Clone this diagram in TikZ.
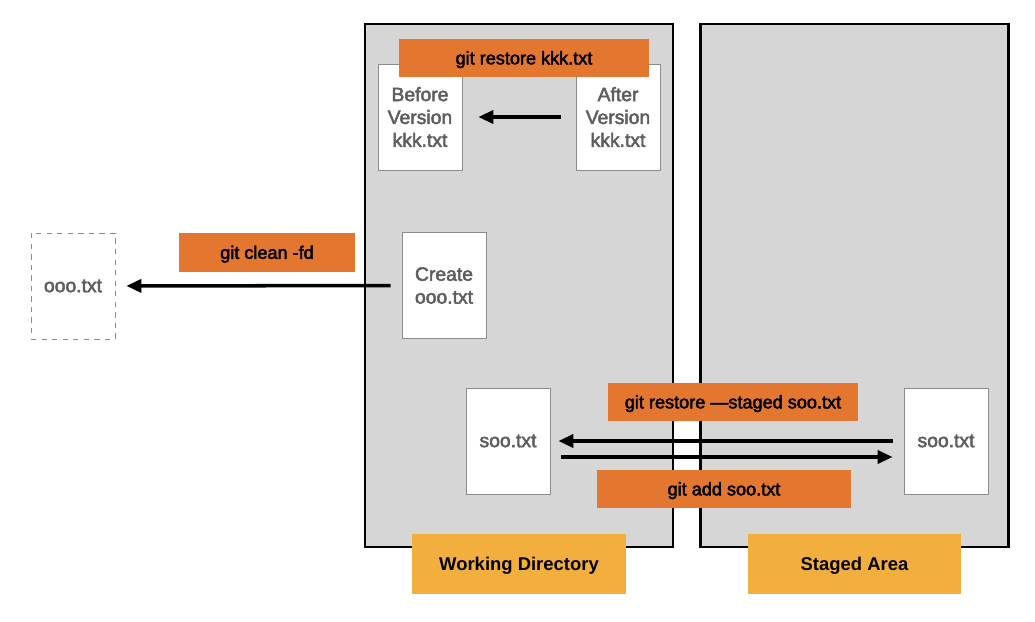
\documentclass[tikz,border=0pt]{standalone}
\usepackage{fontspec}
\setmainfont{Liberation Sans}
\newfontface\medfont{Liberation Sans}[FakeBold=2.5]
\usepackage{xcolor}
\usetikzlibrary{arrows.meta}
\definecolor{panelgray}{HTML}{D6D6D6}
\definecolor{boxgray}{HTML}{8C8C8C}
\definecolor{textgray}{HTML}{5E5E5E}
\definecolor{cmdorange}{HTML}{E3772F}
\definecolor{areayellow}{HTML}{F3AF3D}

\begin{document}
\begin{tikzpicture}[x=0.02cm, y=-0.02cm,
    panel/.style={draw=black, line width=1.7pt, fill=panelgray},
    file/.style={draw=boxgray, fill=white, minimum width=1.68cm, minimum height=2.12cm,
        inner sep=0pt, align=center, text=textgray, font=\medfont\fontsize{11}{13}\selectfont},
    gone/.style={file, dashed},
    cmd/.style={fill=cmdorange, minimum height=0.77cm, inner sep=0pt,
        text height=0.72em, text depth=0pt, font=\medfont\fontsize{10.3}{12}\selectfont},
    area/.style={fill=areayellow, minimum width=4.28cm, minimum height=1.2cm, inner sep=0pt,
        text height=0.72em, text depth=0pt, font=\bfseries\fontsize{10.5}{12}\selectfont},
    arr/.style={-{Triangle[length=0.3cm,width=0.26cm]}, line width=2pt}]
    \useasboundingbox (0,0) rectangle (1035,622);

    % Working directory and staged area
    \draw[panel] (365,24) rectangle (673,547);
    \draw[panel] (700,24) rectangle (1008,547);

    % git restore kkk.txt
    \node[file] (before) at (420,117) {Before\\Version\\kkk.txt};
    \node[file] (after) at (618,117) {After\\Version\\kkk.txt};
    \node[cmd, minimum width=5cm] (restorekkk) at (524,58) {git restore kkk.txt};
    \draw[arr, shorten <=0.3cm, shorten >=0.32cm] (after) -- (before);

    % git clean -fd
    \node[file] (create) at (444,285.5) {Create\\ooo.txt};
    \node[gone] (ooo) at (73,286) {ooo.txt};
    \node[cmd, minimum width=3.52cm, minimum height=0.78cm] (clean) at (267,252.5) {git clean -fd};
    \draw[arr, shorten <=0.22cm, shorten >=0.22cm] (create) -- (ooo);

    % git add / git restore --staged
    \node[file] (sool) at (508,441) {soo.txt};
    \node[file] (soor) at (946,441) {soo.txt};
    \draw[arr, shorten <=0.22cm, shorten >=0.16cm] (soor.west) -- (sool.east);
    \draw[arr, shorten <=0.22cm, shorten >=0.22cm] ([yshift=-0.32cm]sool.east) -- ([yshift=-0.32cm]soor.west);
    \node[cmd, minimum width=5cm] (restorestaged) at (733,402) {git restore —staged soo.txt};
    \node[cmd, minimum width=5.08cm] (addsoo) at (724,489) {git add soo.txt};

    % area labels
    \node[area] (wdlabel) at (519,564) {Working Directory};
    \node[area] (salabel) at (854.5,564) {Staged Area};
\end{tikzpicture}
\end{document}
